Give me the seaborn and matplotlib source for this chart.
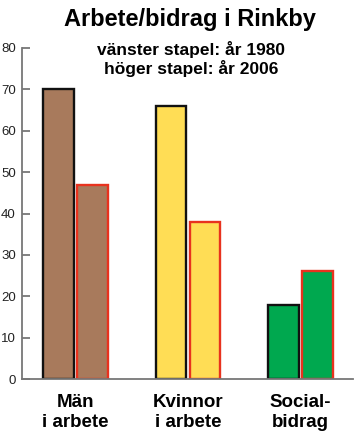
import pandas as pd
import matplotlib
matplotlib.use('Agg')
import matplotlib.pyplot as plt
import seaborn as sns

# data
categories = ['Män\ni arbete', 'Kvinnor\ni arbete', 'Social-\nbidrag']
years = ['1980', '2006']
values_1980 = [70, 66, 18]
values_2006 = [47, 38, 26]
fill_colors = ['#a87a5c', '#ffdd55', '#00a84f']
edge_colors = ['#111111', '#e8321e']
yticks = [0, 10, 20, 30, 40, 50, 60, 70, 80]

df = pd.DataFrame({
    'kategori': categories * 2,
    'år': [years[0]] * 3 + [years[1]] * 3,
    'andel': values_1980 + values_2006,
})

sns.set_theme(style='white')
plt.rcParams['font.family'] = ['Liberation Sans', 'DejaVu Sans']
plt.rcParams['text.color'] = 'black'

fig = plt.figure(figsize=(3.55, 4.33), dpi=100)
ax = fig.add_axes([22 / 355, 1 - 379 / 433, 331 / 355, 331 / 433])

sns.barplot(data=df, x='kategori', y='andel', hue='år', order=categories,
            hue_order=years, width=0.6, gap=0.1, ax=ax, legend=False,
            palette=['#cccccc', '#cccccc'], linewidth=1.6)

# colour bars per category, edge per year
for i, cont in enumerate(ax.containers):
    for j, bar in enumerate(cont):
        bar.set_facecolor(fill_colors[j])
        bar.set_edgecolor(edge_colors[i])
        bar.set_linewidth(1.7)

ax.set_xlim(-0.476, 2.467)
ax.set_ylim(0, 80)
ax.set_yticks(yticks)
ax.set_xlabel('')
ax.set_ylabel('')

for s in ['top', 'right']:
    ax.spines[s].set_visible(False)
for s in ['left', 'bottom']:
    ax.spines[s].set_color('#777777')
    ax.spines[s].set_linewidth(1.3)

ax.tick_params(axis='y', direction='in', length=6, width=1.3, color='#777777',
               labelsize=9.5, pad=4.5, left=True, labelcolor='#222222')
ax.tick_params(axis='x', length=0, labelsize=13.5, pad=11, labelcolor='black')
for lab in ax.get_xticklabels():
    lab.set_fontweight('bold')
    lab.set_linespacing(1.2)

fig.text(0.535, 0.982, 'Arbete/bidrag i Rinkby', ha='center', va='top',
         fontsize=17, fontweight='bold')
ax.text(0.51, 1.02, 'vänster stapel: år 1980\nhöger stapel: år 2006',
        transform=ax.transAxes, ha='center', va='top', fontsize=12.5,
        fontweight='bold', linespacing=1.15)

fig.savefig('out.png', dpi=100)
